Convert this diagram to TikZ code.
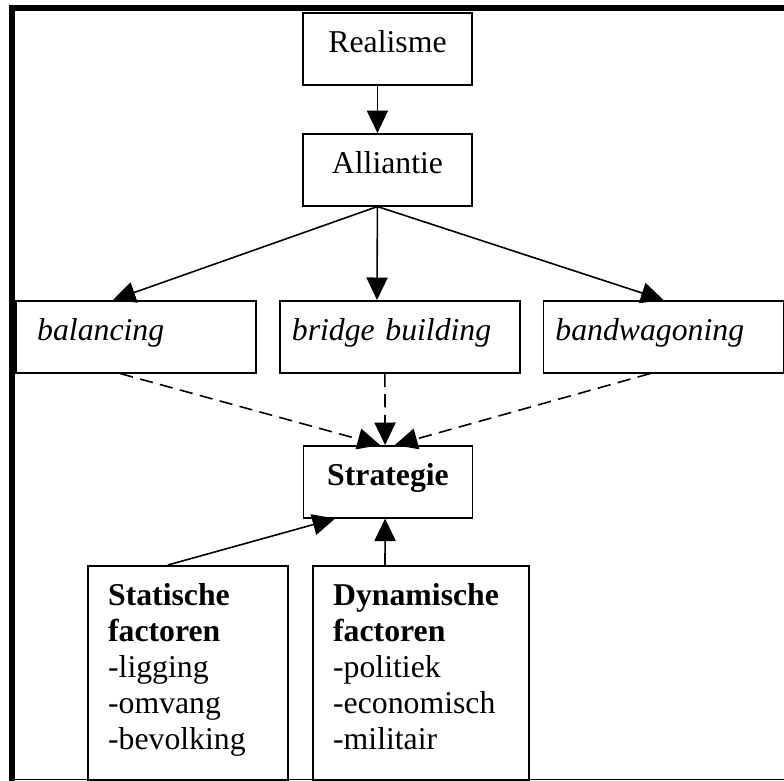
\documentclass[tikz,border=0pt]{standalone}
\usepackage{fontspec}
\setmainfont{Liberation Serif}
\usetikzlibrary{arrows.meta}

\begin{document}
\begin{tikzpicture}[
  x=0.378pt,
  y=-0.378pt,
  font=\fontsize{12}{13.6}\selectfont,
  box/.style={
    draw,
    line width=0.6pt,
    anchor=north,
    inner ysep=0pt,
    text height=15.1pt,
    text depth=12.1pt
  },
  topbox/.style={box, minimum width=63.9pt, inner xsep=0pt},
  rowbox/.style={box, font=\fontsize{12}{13.6}\selectfont\itshape, align=left, inner xsep=4.5pt, text width=81.7pt},
  factorbox/.style={box, align=left, inner xsep=7.6pt, text depth=65.8pt},
  arrow/.style={-{Triangle[length=8.5pt,width=8pt]}, line width=0.6pt},
  dasharrow/.style={arrow, dash pattern=on 5pt off 2.8pt},
  framerule/.style={line width=2.3pt}
]
\useasboundingbox (0,0) rectangle (784,781);

\draw[framerule] (12,5) -- (12,781);
\draw[framerule] (9,8) -- (784,8);
\draw[line width=0.6pt] (9,779.5) -- (784,779.5);

\node[topbox] (real) at (387.5,12) {Realisme};
\node[topbox] (alli) at (387.5,133) {Alliantie};
\node[rowbox, inner xsep=8pt, text width=74.7pt] (bal) at (136,300) {balancing};
\node[rowbox] (bridge) at (400,300) {bridge building};
\node[rowbox] (band) at (663.5,300) {bandwagoning};
\node[topbox] (strat) at (388,445) {\textbf{Strategie}};
\node[factorbox, text width=60.4pt] (stat) at (188,565) {\textbf{Statische}\\\textbf{factoren}\\-ligging\\-omvang\\-bevolking};
\node[factorbox, text width=66.4pt] (dyn) at (421,565) {\textbf{Dynamische}\\\textbf{factoren}\\-politiek\\-economisch\\-militair};

\draw[arrow] ([xshift=-3.8pt]real.south) -- ([xshift=-3.8pt]alli.north);
\draw[arrow] ([xshift=-3.8pt]alli.south) -- ([xshift=-8.7pt]bal.north);
\draw[arrow] ([xshift=-3.8pt]alli.south) -- ([xshift=-8.7pt]bridge.north);
\draw[arrow] ([xshift=-3.8pt]alli.south) -- (band.north);
\draw[dasharrow] ([xshift=-6pt]bal.south) -- ([xshift=-3pt]strat.north);
\draw[dasharrow] ([xshift=-5.7pt]bridge.south) -- ([xshift=-1.1pt]strat.north);
\draw[dasharrow] ([xshift=-5pt]band.south) -- ([xshift=2.6pt]strat.north);
\draw[arrow] ([xshift=-7.6pt]stat.north) -- ([xshift=-20pt]strat.south);
\draw[arrow] ([xshift=-13.6pt]dyn.north) -- ([xshift=-1.1pt]strat.south);
\end{tikzpicture}
\end{document}
